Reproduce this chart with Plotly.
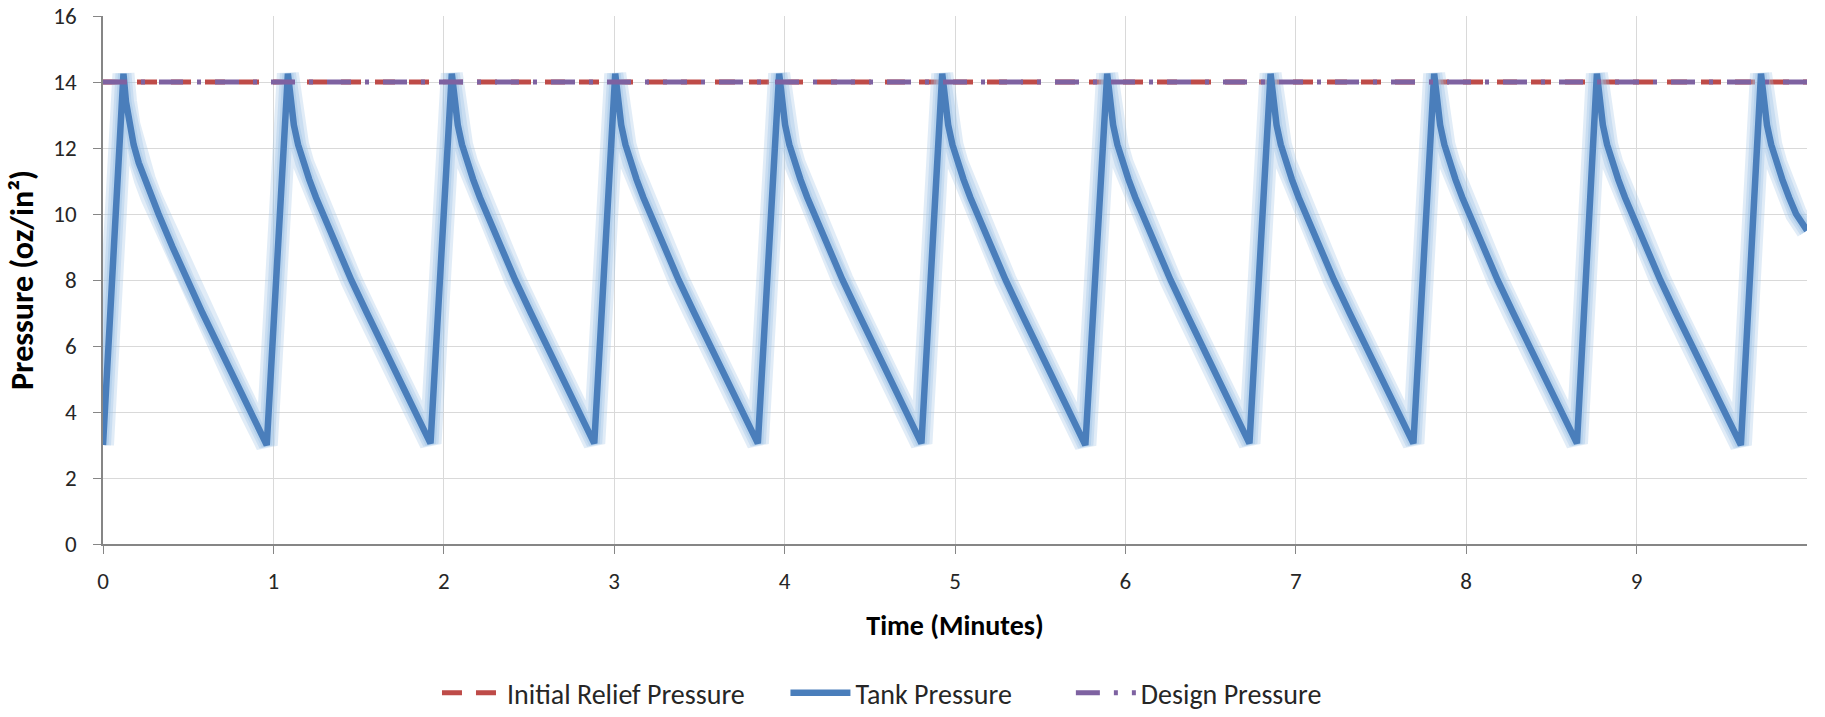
import plotly.graph_objects as go

# ---- data ----
tank_time = [
    0.000,
    0.120, 0.135, 0.155, 0.180, 0.210, 0.245, 0.285, 0.326, 0.408, 0.492, 0.584, 0.678, 0.771, 0.864, 0.961,
    1.085, 1.100, 1.120, 1.145, 1.175, 1.210, 1.250, 1.291, 1.373, 1.457, 1.549, 1.643, 1.736, 1.829, 1.922,
    2.047, 2.062, 2.082, 2.107, 2.137, 2.172, 2.212, 2.253, 2.335, 2.419, 2.511, 2.605, 2.698, 2.791, 2.883,
    3.006, 3.021, 3.041, 3.066, 3.096, 3.131, 3.171, 3.212, 3.294, 3.378, 3.470, 3.564, 3.657, 3.750, 3.843,
    3.968, 3.983, 4.003, 4.028, 4.058, 4.093, 4.133, 4.174, 4.256, 4.340, 4.432, 4.526, 4.619, 4.712, 4.803,
    4.925, 4.940, 4.960, 4.985, 5.015, 5.050, 5.090, 5.131, 5.213, 5.297, 5.389, 5.483, 5.576, 5.669, 5.765,
    5.893, 5.908, 5.928, 5.953, 5.983, 6.018, 6.058, 6.099, 6.181, 6.265, 6.357, 6.451, 6.544, 6.637, 6.728,
    6.852, 6.867, 6.887, 6.912, 6.942, 6.977, 7.017, 7.058, 7.140, 7.224, 7.316, 7.410, 7.503, 7.596, 7.690,
    7.812, 7.827, 7.847, 7.872, 7.902, 7.937, 7.977, 8.018, 8.100, 8.184, 8.276, 8.370, 8.463, 8.556, 8.650,
    8.767, 8.782, 8.802, 8.827, 8.857, 8.892, 8.932, 8.973, 9.055, 9.139, 9.231, 9.325, 9.418, 9.511, 9.612,
    9.730, 9.745, 9.765, 9.790, 9.820, 9.855, 9.895, 9.936, 10.000,
]
tank_pressure = [
    3.00,
    14.25, 13.40, 12.70, 12.10, 11.55, 11.05, 10.50, 10.00, 9.00, 8.00, 7.00, 6.00, 5.00, 4.00, 3.00,
    14.25, 13.40, 12.70, 12.10, 11.55, 11.05, 10.50, 10.00, 9.00, 8.00, 7.00, 6.00, 5.00, 4.00, 3.05,
    14.25, 13.40, 12.70, 12.10, 11.55, 11.05, 10.50, 10.00, 9.00, 8.00, 7.00, 6.00, 5.00, 4.00, 3.05,
    14.25, 13.40, 12.70, 12.10, 11.55, 11.05, 10.50, 10.00, 9.00, 8.00, 7.00, 6.00, 5.00, 4.00, 3.05,
    14.25, 13.40, 12.70, 12.10, 11.55, 11.05, 10.50, 10.00, 9.00, 8.00, 7.00, 6.00, 5.00, 4.00, 3.05,
    14.25, 13.40, 12.70, 12.10, 11.55, 11.05, 10.50, 10.00, 9.00, 8.00, 7.00, 6.00, 5.00, 4.00, 3.00,
    14.25, 13.40, 12.70, 12.10, 11.55, 11.05, 10.50, 10.00, 9.00, 8.00, 7.00, 6.00, 5.00, 4.00, 3.05,
    14.25, 13.40, 12.70, 12.10, 11.55, 11.05, 10.50, 10.00, 9.00, 8.00, 7.00, 6.00, 5.00, 4.00, 3.05,
    14.25, 13.40, 12.70, 12.10, 11.55, 11.05, 10.50, 10.00, 9.00, 8.00, 7.00, 6.00, 5.00, 4.00, 3.05,
    14.25, 13.40, 12.70, 12.10, 11.55, 11.05, 10.50, 10.00, 9.00, 8.00, 7.00, 6.00, 5.00, 4.00, 3.00,
    14.25, 13.40, 12.70, 12.10, 11.55, 11.05, 10.50, 10.00, 9.50,
]
relief_time = [0, 10]
relief_pressure = [14, 14]
design_time = [0, 10]
design_pressure = [14, 14]
x_ticks = [0, 1, 2, 3, 4, 5, 6, 7, 8, 9]
y_ticks = [0, 2, 4, 6, 8, 10, 12, 14, 16]

FONT = "Carlito, Calibri, Lato, 'Open Sans', sans-serif"

fig = go.Figure()

fig.add_trace(go.Scatter(
    x=relief_time, y=relief_pressure, mode="lines", name="Initial Relief Pressure",
    line=dict(color="#BE4B48", width=5, dash="20px,14px"), legend="legend",
))

# soft glow under the tank pressure line
for w, op in [(22, 0.30), (16, 0.35), (11, 0.45)]:
    fig.add_trace(go.Scatter(
        x=tank_time, y=tank_pressure, mode="lines", showlegend=False, hoverinfo="skip",
        line=dict(color="#9DC3E6", width=w), opacity=op,
    ))

fig.add_trace(go.Scatter(
    x=tank_time, y=tank_pressure, mode="lines", name="Tank Pressure",
    line=dict(color="#4A7EBB", width=6.5), legend="legend2",
))

fig.add_trace(go.Scatter(
    x=design_time, y=design_pressure, mode="lines", name="Design Pressure",
    line=dict(color="#7E62A1", width=5, dash="24px,14px,4px,14px"), legend="legend3",
))

leg_common = dict(
    orientation="h", xanchor="left",
    yref="container", y=0.0335, yanchor="middle",
    font=dict(size=28, color="#262626"), itemwidth=60,
    bgcolor="rgba(0,0,0,0)",
)

fig.update_layout(
    width=1825, height=717,
    margin=dict(l=103, r=18, t=16, b=173, autoexpand=False),
    paper_bgcolor="white", plot_bgcolor="white",
    font=dict(family=FONT, size=22, color="#262626"),
    showlegend=True,
    legend=dict(x=0.196, **leg_common),
    legend2=dict(x=0.4005, **leg_common),
    legend3=dict(x=0.568, **leg_common),
    xaxis=dict(
        range=[0, 10], tickvals=x_ticks, ticktext=[str(v) for v in x_ticks],
        showgrid=True, gridcolor="#D9D9D9", gridwidth=1,
        showline=True, linecolor="#868686", linewidth=1.5,
        ticks="outside", ticklen=8, tickcolor="#868686",
        zeroline=False, ticklabelstandoff=8, automargin=False,
        title=dict(text="<b>Time (Minutes)</b>", font=dict(size=28, color="#000000"), standoff=21),
        tickfont=dict(size=23),
    ),
    yaxis=dict(
        range=[0, 16], tickvals=y_ticks,
        showgrid=True, gridcolor="#D9D9D9", gridwidth=1,
        showline=True, linecolor="#868686", linewidth=1.5,
        ticks="outside", ticklen=8, tickcolor="#868686",
        zeroline=False, ticklabelstandoff=12, automargin=False,
        title=dict(text="<b>Pressure (oz/in²)</b>", font=dict(size=32, color="#000000"), standoff=10),
        tickfont=dict(size=23),
    ),
)

fig.write_html(
    "out.html",
    config={"displayModeBar": False},
    post_script="document.body.style.margin='0';document.body.style.overflow='hidden';",
)
